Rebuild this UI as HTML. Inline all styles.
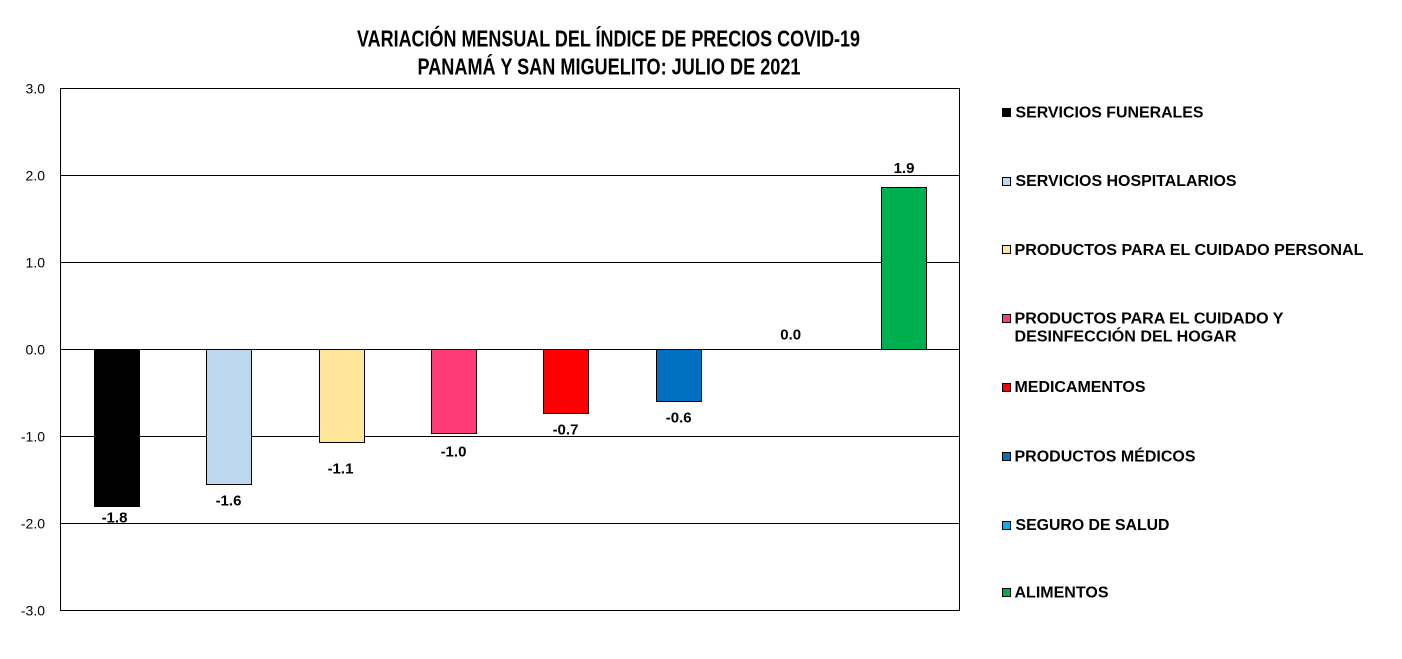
<!DOCTYPE html>
<html>
<head>
<meta charset="utf-8">
<style>
  html, body { margin:0; padding:0; background:#fff; }
  svg { display:block; }
  text { font-family: "Liberation Sans", Arial, sans-serif; fill:#000; }
</style>
</head>
<body>
<svg width="1402" height="659" viewBox="0 0 1402 659" xmlns="http://www.w3.org/2000/svg">
  <rect x="0" y="0" width="1402" height="659" fill="#fff"/>

  <!-- Title -->
  <text x="357" y="46.5" font-size="23" font-weight="bold" textLength="503" lengthAdjust="spacingAndGlyphs">VARIACIÓN MENSUAL DEL ÍNDICE DE PRECIOS COVID-19</text>
  <text x="417.5" y="74.3" font-size="23" font-weight="bold" textLength="383" lengthAdjust="spacingAndGlyphs">PANAMÁ Y SAN MIGUELITO: JULIO DE 2021</text>

  <!-- Gridlines -->
  <g stroke="#000" stroke-width="1" fill="none">
    <line x1="60.5" y1="175.5" x2="959.5" y2="175.5"/>
    <line x1="60.5" y1="262.5" x2="959.5" y2="262.5"/>
    <line x1="60.5" y1="349.5" x2="959.5" y2="349.5"/>
    <line x1="60.5" y1="436.5" x2="959.5" y2="436.5"/>
    <line x1="60.5" y1="523.5" x2="959.5" y2="523.5"/>
    <rect x="60.5" y="88.5" width="899" height="522"/>
  </g>

  <!-- Y tick labels -->
  <g font-size="14" text-anchor="end">
    <text x="45" y="93.3">3.0</text>
    <text x="45" y="180.3">2.0</text>
    <text x="45" y="267.3">1.0</text>
    <text x="45" y="354.3">0.0</text>
    <text x="45" y="441.3">-1.0</text>
    <text x="45" y="528.3">-2.0</text>
    <text x="45" y="615.3">-3.0</text>
  </g>

  <!-- Bars -->
  <g stroke="#000" stroke-width="1">
    <rect x="94.5" y="349.5" width="45" height="157" fill="#000000"/>
    <rect x="206.5" y="349.5" width="45" height="135" fill="#BDD7EE"/>
    <rect x="319.5" y="349.5" width="45" height="93" fill="#FFE699"/>
    <rect x="431.5" y="349.5" width="45" height="84" fill="#FF3B77"/>
    <rect x="543.5" y="349.5" width="45" height="64" fill="#FF0000"/>
    <rect x="656.5" y="349.5" width="45" height="52" fill="#0070C0"/>
    <rect x="881.5" y="187.5" width="45" height="162" fill="#00B050"/>
  </g>

  <!-- Data labels -->
  <g font-size="15" font-weight="bold" text-anchor="middle">
    <text x="114.5" y="522.5">-1.8</text>
    <text x="228.5" y="505.5">-1.6</text>
    <text x="340.5" y="473.5">-1.1</text>
    <text x="453.5" y="456.5">-1.0</text>
    <text x="565.5" y="434.3">-0.7</text>
    <text x="678.7" y="422.3">-0.6</text>
    <text x="790.7" y="339.7">0.0</text>
    <text x="904" y="173">1.9</text>
  </g>

  <!-- Legend markers -->
  <g stroke="#000" stroke-width="1">
    <rect x="1002.5" y="108.5" width="8" height="8" fill="#000000"/>
    <rect x="1002.5" y="177.5" width="8" height="8" fill="#BDD7EE"/>
    <rect x="1002.5" y="245.5" width="8" height="8" fill="#FFE699"/>
    <rect x="1002.5" y="314.5" width="8" height="8" fill="#FF3B77"/>
    <rect x="1002.5" y="383.5" width="8" height="8" fill="#FF0000"/>
    <rect x="1002.5" y="452.5" width="8" height="8" fill="#0070C0"/>
    <rect x="1002.5" y="521.5" width="8" height="8" fill="#00B0F0"/>
    <rect x="1002.5" y="588.5" width="8" height="8" fill="#00B050"/>
  </g>

  <!-- Legend text -->
  <g font-size="16" font-weight="bold">
    <text x="1015.5" y="117.6" textLength="188" lengthAdjust="spacingAndGlyphs">SERVICIOS FUNERALES</text>
    <text x="1015.5" y="186.2" textLength="221" lengthAdjust="spacingAndGlyphs">SERVICIOS HOSPITALARIOS</text>
    <text x="1014.5" y="254.8" textLength="349" lengthAdjust="spacingAndGlyphs">PRODUCTOS PARA EL CUIDADO PERSONAL</text>
    <text x="1014.5" y="323.5" textLength="269" lengthAdjust="spacingAndGlyphs">PRODUCTOS PARA EL CUIDADO Y</text>
    <text x="1014.5" y="341.5" textLength="222" lengthAdjust="spacingAndGlyphs">DESINFECCIÓN DEL HOGAR</text>
    <text x="1014.5" y="391.8" textLength="131" lengthAdjust="spacingAndGlyphs">MEDICAMENTOS</text>
    <text x="1014.5" y="461.5" textLength="181" lengthAdjust="spacingAndGlyphs">PRODUCTOS MÉDICOS</text>
    <text x="1015.5" y="530.1" textLength="154" lengthAdjust="spacingAndGlyphs">SEGURO DE SALUD</text>
    <text x="1014.5" y="597.5" textLength="94" lengthAdjust="spacingAndGlyphs">ALIMENTOS</text>
  </g>
</svg>
</body>
</html>
